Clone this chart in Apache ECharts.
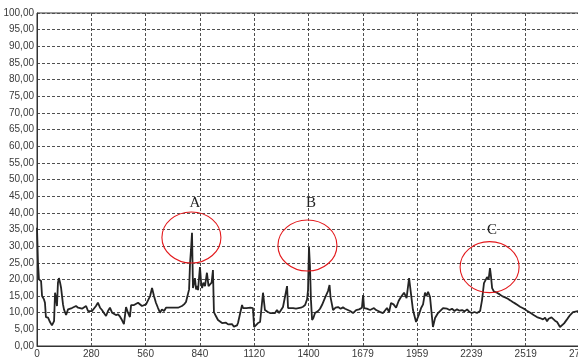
<!DOCTYPE html>
<html>
<head>
<meta charset="utf-8">
<script src="https://cdn.jsdelivr.net/npm/echarts@6/dist/echarts.min.js"></script>
<style>
  html, body { margin: 0; padding: 0; background: #ffffff; }
  #chart { width: 578px; height: 360px; }
</style>
</head>
<body>
<div id="chart"></div>
<script>
// Sample positions along the horizontal axis
const samplePos = [
  0, 5, 10, 21, 26, 36, 41, 46, 57, 67, 77, 88, 93, 98, 103, 108, 113, 119, 124, 129,
  134, 139, 150, 160, 170, 180, 190, 201, 212, 222, 232, 242, 253, 263, 273, 284, 294, 304, 314, 325,
  335, 345, 356, 366, 376, 387, 397, 407, 418, 428, 438, 448, 459, 469, 479, 485, 500, 510, 521, 531,
  541, 551, 562, 572, 583, 593, 603, 613, 624, 634, 644, 655, 665, 675, 686, 696, 706, 716, 727, 737,
  747, 758, 768, 776, 784, 789, 794, 799, 804, 809, 814, 820, 825, 830, 840, 846, 851, 858, 866, 876,
  884, 892, 900, 907, 912, 922, 933, 943, 954, 964, 974, 985, 995, 1005, 1015, 1021, 1031, 1036, 1046, 1057,
  1062, 1080, 1100, 1113, 1119, 1124, 1139, 1150, 1160, 1165, 1175, 1190, 1201, 1214, 1227, 1237, 1248, 1258, 1268, 1278,
  1289, 1294, 1304, 1320, 1335, 1345, 1360, 1371, 1382, 1392, 1397, 1402, 1407, 1412, 1418, 1425, 1433, 1449, 1459, 1469,
  1485, 1500, 1508, 1513, 1526, 1539, 1552, 1565, 1577, 1588, 1598, 1614, 1629, 1645, 1660, 1675, 1681, 1686, 1700, 1717,
  1737, 1748, 1758, 1770, 1784, 1794, 1804, 1815, 1825, 1838, 1851, 1864, 1876, 1892, 1905, 1913, 1918, 1928, 1938, 1954,
  1969, 1980, 1990, 2000, 2008, 2016, 2026, 2031, 2036, 2041, 2052, 2067, 2077, 2093, 2103, 2114, 2127, 2139, 2152, 2165,
  2178, 2191, 2204, 2217, 2230, 2242, 2255, 2268, 2284, 2294, 2304, 2312, 2320, 2328, 2335, 2340, 2346, 2356, 2371, 2385,
  2400, 2413, 2427, 2440, 2452, 2464, 2477, 2490, 2503, 2516, 2530, 2545, 2560, 2577, 2592, 2608, 2619, 2629, 2637, 2645,
  2652, 2660, 2670, 2681, 2688, 2696, 2706, 2717, 2732, 2748, 2763, 2773, 2789, 2799
];

// Measured values at each sample position
const sampleVal = [
  35.5, 25, 20, 19.5, 15, 14, 13, 8.7, 8.5, 7.2, 6.2, 7.5, 16, 14.5, 12, 19, 20.4, 19, 17.5, 17.7,
  12.5, 11, 9.3, 11, 10.8, 11.4, 12, 12, 11.5, 11.8, 11.2, 10.8, 12, 10.5, 9.9, 10.5, 11, 12, 13, 11.5,
  10.8, 9.9, 9, 10.5, 11.5, 10, 9.5, 9.3, 9.5, 8.8, 7.8, 6.6, 11.7, 10, 8.7, 12.3, 12.3, 12.8, 13, 12.5,
  12, 12.3, 12.5, 13, 15, 17.4, 15, 13, 11.4, 10, 11, 10.5, 11.5, 11.2, 11.5, 11.3, 11.5, 11.2, 11.5, 11.8,
  12, 12.5, 13.2, 13.5, 17, 25, 29, 34, 17.4, 17.5, 20.4, 17, 18, 16.8, 23.7, 19, 17.4, 19, 18, 22,
  18, 17.7, 19, 22.8, 10.2, 9, 7.8, 7.5, 6.9, 7.2, 7, 6.5, 6.2, 6.6, 5.8, 5.5, 6.2, 6.9, 6.9, 12.3,
  11.4, 11.4, 11.5, 11.4, 5.7, 5.4, 6.9, 7.2, 6.9, 16, 10.8, 10.2, 9.9, 9.9, 9.9, 10.8, 9.9, 10.5, 11.7, 11.7,
  18, 11.4, 11.4, 11.4, 11.2, 11.6, 11.5, 11.8, 12.3, 14, 16.8, 29.7, 24, 14, 7.8, 8.5, 9.9, 10.5, 11.2, 12.3,
  14.5, 16.5, 18.3, 14.7, 10.8, 11.5, 11.7, 11.2, 11.6, 11.2, 11.4, 10.5, 9.9, 10.8, 11, 11.5, 15.3, 11.4, 11.2, 10.8,
  11.4, 10.8, 10.5, 10.2, 9.9, 10.5, 11.4, 10.2, 12.9, 12.5, 11.5, 13.5, 14.7, 16, 14.4, 15, 20.4, 20, 10.8, 7.2,
  9.5, 11.4, 12.5, 16, 15, 16.3, 14.7, 15, 14.7, 5.7, 8.4, 9.9, 9.5, 11.4, 11, 11.2, 10.8, 11.2, 10.5, 11,
  10.6, 10.8, 10.4, 11, 10.2, 9.9, 10.2, 9.9, 10.5, 13.8, 18.9, 19.8, 20.7, 20, 23.4, 21, 17.4, 16.3, 16, 15.5,
  14.9, 14.6, 14.2, 13.7, 13.2, 12.8, 12.3, 11.8, 11.4, 11.0, 10.4, 9.9, 9.3, 8.7, 8.4, 8.0, 8.5, 7.4, 8.2, 7.8,
  8.6, 8.2, 7.6, 7.2, 7.8, 5.7, 6.2, 6.8, 8.0, 9.3, 10.2, 10.8, 10.5, 10.6
];

// Horizontal tick labels
const xTickLabels = ['0', '280', '560', '840', '1120', '1400', '1679', '1959', '2239', '2519', '2799'];
const xStep = 279.9;

// Marked events: ring centre and letter placement in data units
const eventNames = ['A', 'B', 'C'];
const eventCenterX = [796, 1394, 2333];
const eventCenterY = [32.6, 30.2, 23.7];
const eventLabelX = [814, 1412, 2345];
const eventLabelY = [42.9, 42.9, 34.8];

const seriesData = samplePos.map((p, i) => [p, sampleVal[i]]);

const chart = echarts.init(document.getElementById('chart'));

const gridLine = { show: true, lineStyle: { color: '#505050', width: 1, type: [3, 2] } };
const labelFont = { fontFamily: 'Liberation Sans, Arial, sans-serif', fontSize: 10, color: '#3a3a3a' };

chart.setOption({
  backgroundColor: '#ffffff',
  animation: false,
  grid: {
    left: 37, right: -2, top: 13, bottom: 14,
    containLabel: false,
    outerBoundsMode: 'none',
    show: true, borderColor: '#333333', borderWidth: 1
  },
  xAxis: {
    type: 'value',
    min: 0,
    max: 2799,
    interval: xStep,
    axisLine: { show: true, onZero: false, lineStyle: { color: '#333333', width: 1 } },
    axisTick: { show: false },
    splitLine: gridLine,
    axisLabel: Object.assign({
      margin: 3,
      showMaxLabel: true,
      hideOverlap: false,
      formatter: v => xTickLabels[Math.round(v / xStep)] || ''
    }, labelFont)
  },
  yAxis: {
    type: 'value',
    min: 0,
    max: 100,
    interval: 5,
    axisLine: { show: true, lineStyle: { color: '#333333', width: 1 } },
    axisTick: { show: false },
    splitLine: gridLine,
    axisLabel: Object.assign({
      margin: 3,
      formatter: v => v.toFixed(2).replace('.', ',')
    }, labelFont)
  },
  series: [{
    type: 'line',
    data: seriesData,
    showSymbol: false,
    symbol: 'none',
    smooth: false,
    lineStyle: { color: '#242424', width: 1.8 },
    z: 3
  }]
});

// Red rings and letters for the marked events, placed through the axes
function drawEvents() {
  const elements = [];
  eventNames.forEach((name, i) => {
    const c = chart.convertToPixel({ gridIndex: 0 }, [eventCenterX[i], eventCenterY[i]]);
    const t = chart.convertToPixel({ gridIndex: 0 }, [eventLabelX[i], eventLabelY[i]]);
    elements.push({
      type: 'ellipse',
      shape: { cx: c[0], cy: c[1], rx: 29.5, ry: 25.5 },
      style: { fill: 'none', stroke: '#e3191c', lineWidth: 1.1 },
      z: 10
    });
    elements.push({
      type: 'text',
      x: t[0], y: t[1],
      style: {
        text: name,
        fill: '#222222',
        font: '15px "Liberation Serif", "Times New Roman", serif',
        align: 'center',
        verticalAlign: 'middle'
      },
      z: 10
    });
  });
  chart.setOption({ graphic: elements });
}
drawEvents();
</script>
</body>
</html>
